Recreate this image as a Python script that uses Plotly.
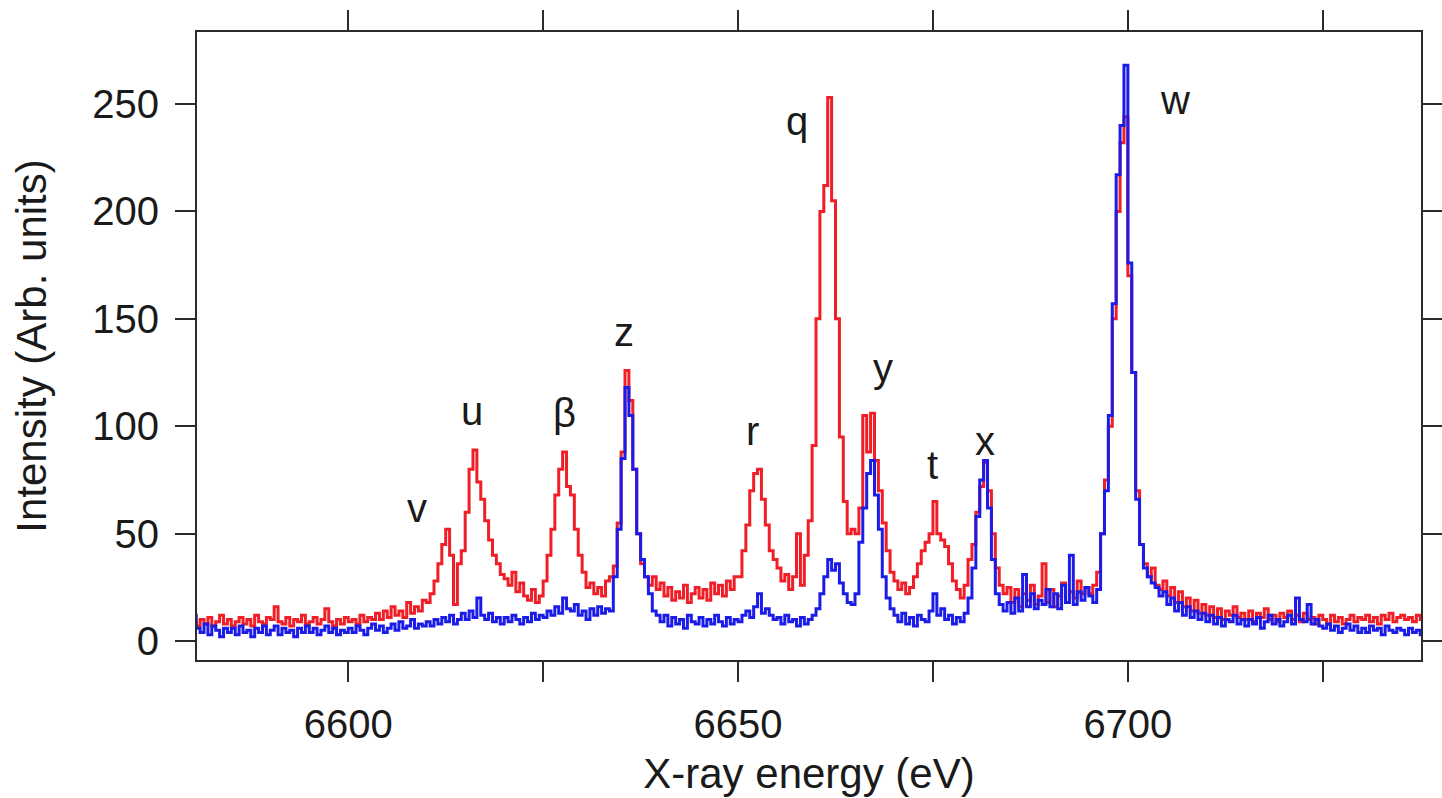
import numpy as np
import plotly.graph_objects as go

# Energy grid of the spectra (eV), 0.5 eV bins
E_START, E_STEP = 6580.0, 0.5

# Red spectrum, ten bins (5 eV) per row
red_counts = [
    9, 7, 10, 8, 11, 7, 9, 12, 8, 10,          # 6580
    7, 9, 11, 8, 10, 7, 12, 9, 8, 11,          # 6585
    10, 16, 9, 8, 11, 7, 10, 9, 12, 8,         # 6590
    9, 11, 8, 10, 15, 9, 7, 10, 8, 11,         # 6595
    9, 10, 8, 12, 9, 11, 10, 13, 10, 14,       # 6600
    11, 16, 12, 14, 11, 18, 13, 16, 14, 19,    # 6605
    18, 22, 28, 36, 45, 52, 40, 17, 36, 42,    # 6610
    60, 80, 89, 74, 66, 56, 47, 40, 36, 31,    # 6615
    29, 26, 32, 23, 27, 21, 19, 24, 18, 21,    # 6620
    28, 40, 52, 68, 80, 88, 72, 68, 52, 40,    # 6625
    32, 25, 27, 22, 25, 21, 28, 30, 35, 55,    # 6630
    88, 126, 112, 80, 50, 36, 30, 26, 30, 24,  # 6635
    27, 21, 25, 19, 23, 20, 26, 18, 22, 25,    # 6640
    20, 24, 19, 27, 22, 26, 21, 28, 24, 30,    # 6645
    30, 42, 54, 70, 78, 80, 66, 54, 42, 38,    # 6650
    34, 28, 31, 24, 30, 50, 26, 40, 56, 91,    # 6655
    150, 200, 212, 253, 205, 150, 95, 65, 50, 52,  # 6660
    50, 62, 105, 88, 106, 84, 70, 55, 42, 32,  # 6665
    28, 24, 27, 22, 25, 30, 36, 42, 46, 50,    # 6670
    65, 50, 47, 44, 36, 28, 24, 20, 26, 38,    # 6675
    45, 60, 72, 83, 70, 50, 34, 26, 22, 25,    # 6680
    18, 24, 16, 22, 19, 26, 17, 21, 36, 18,    # 6685
    24, 16, 21, 27, 18, 23, 20, 28, 22, 25,    # 6690
    22, 26, 32, 50, 75, 100, 150, 200, 232, 244,  # 6695
    170, 125, 70, 45, 36, 30, 34, 26, 24, 28,  # 6700
    21, 25, 18, 23, 16, 20, 14, 19, 13, 17,    # 6705
    12, 16, 11, 15, 10, 14, 12, 16, 11, 13,    # 6710
    10, 14, 9, 13, 11, 15, 10, 12, 9, 13,      # 6715
    11, 14, 10, 12, 9, 13, 10, 11, 8, 12,      # 6720
    10, 8, 12, 9, 11, 8, 10, 12, 9, 11,        # 6725
    10, 12, 9, 11, 8, 12, 10, 13, 9, 11,       # 6730
    12, 10, 11, 9, 12, 10, 11, 9, 10, 9,       # 6735
]

# Blue spectrum, ten bins (5 eV) per row
blue_counts = [
    12, 6, 4, 8, 3, 7, 5, 2, 6, 4,             # 6580
    6, 3, 7, 4, 5, 2, 6, 4, 7, 3,              # 6585
    5, 7, 3, 6, 4, 5, 2, 6, 4, 7,              # 6590
    4, 6, 3, 5, 7, 4, 6, 3, 5, 4,              # 6595
    6, 4, 7, 5, 3, 6, 8, 5, 7, 4,              # 6600
    6, 8, 5, 9, 6, 7, 10, 6, 8, 7,             # 6605
    9, 7, 10, 8, 11, 9, 12, 8, 10, 13,         # 6610
    10, 14, 11, 20, 12, 10, 13, 9, 11, 8,      # 6615
    11, 9, 12, 10, 8, 11, 9, 13, 10, 12,       # 6620
    11, 14, 12, 16, 13, 20, 15, 14, 17, 12,    # 6625
    14, 10, 15, 12, 16, 13, 15, 14, 30, 52,    # 6630
    85, 118, 105, 80, 50, 38, 30, 22, 14, 12,  # 6635
    9, 12, 7, 11, 8, 10, 6, 12, 9, 8,          # 6640
    11, 7, 10, 8, 12, 9, 7, 11, 8, 10,         # 6645
    9, 12, 14, 11, 16, 22, 13, 15, 12, 10,     # 6650
    11, 8, 12, 9, 10, 7, 11, 8, 10, 12,        # 6655
    15, 22, 30, 38, 33, 36, 27, 22, 18, 17,    # 6660
    22, 46, 62, 78, 84, 68, 52, 30, 20, 15,    # 6665
    12, 9, 13, 8, 11, 7, 12, 10, 9, 14,        # 6670
    22, 12, 15, 10, 12, 8, 11, 9, 13, 20,      # 6675
    34, 58, 75, 84, 62, 38, 22, 17, 14, 18,    # 6680
    13, 20, 14, 31, 16, 22, 15, 19, 17, 24,    # 6685
    16, 22, 15, 26, 18, 40, 17, 23, 19, 25,    # 6690
    21, 18, 24, 50, 70, 105, 157, 217, 240, 268,  # 6695
    176, 125, 66, 45, 34, 30, 27, 25, 21, 23,  # 6700
    17, 20, 14, 18, 12, 16, 11, 14, 10, 13,    # 6705
    9, 12, 8, 11, 7, 10, 9, 12, 8, 10,         # 6710
    7, 10, 8, 11, 6, 9, 12, 8, 10, 7,          # 6715
    9, 12, 8, 20, 10, 9, 17, 8, 10, 7,         # 6720
    6, 8, 5, 7, 4, 6, 8, 5, 7, 4,              # 6725
    6, 4, 7, 5, 6, 3, 7, 5, 4, 6,              # 6730
    5, 3, 6, 4, 5, 3, 4, 2, 4, 3,              # 6735
]

# Line labels and where they sit (eV, intensity)
line_names = ["w", "q", "z", "y", "u", "\u03b2", "r", "x", "t", "v"]
line_label_E = [6706.0, 6657.5, 6635.4, 6668.6, 6615.9, 6627.7, 6651.8, 6681.7, 6674.9, 6608.8]
line_label_I = [252.0, 242.0, 144.0, 127.0, 107.0, 106.0, 98.0, 93.0, 82.0, 62.0]

x_tick_vals = [6600, 6625, 6650, 6675, 6700, 6725]
x_tick_text = ["6600", "", "6650", "", "6700", ""]
y_tick_vals = [0, 50, 100, 150, 200, 250]

energy = E_START + E_STEP * np.arange(len(red_counts))

FONT = "Liberation Sans, Arial, Helvetica, sans-serif"
AXIS_COLOR = "#2b2b2b"

fig = go.Figure()
fig.add_trace(go.Scatter(x=energy, y=red_counts, mode="lines", line_shape="hv",
                         line=dict(color="#f01e26", width=3), showlegend=False))
fig.add_trace(go.Scatter(x=energy, y=blue_counts, mode="lines", line_shape="hv",
                         line=dict(color="#1c1ce8", width=3), showlegend=False))

for name, e, i in zip(line_names, line_label_E, line_label_I):
    fig.add_annotation(x=e, y=i, text=name, showarrow=False,
                       font=dict(family=FONT, size=40, color="#1a1a1a"),
                       xanchor="center", yanchor="middle")

axis_common = dict(
    showline=True, linecolor=AXIS_COLOR, linewidth=2.2, mirror="ticks",
    ticks="outside", ticklen=20, tickwidth=2.2, tickcolor=AXIS_COLOR,
    showgrid=False, zeroline=False, automargin=False,
    tickfont=dict(family=FONT, size=40, color="#1a1a1a"),
)

fig.update_xaxes(range=[6580.6, 6737.6], tickmode="array", tickvals=x_tick_vals,
                 ticktext=x_tick_text, ticklabelstandoff=8,
                 title=dict(text="X-ray energy (eV)", standoff=14,
                            font=dict(family=FONT, size=42, color="#1a1a1a")),
                 **axis_common)
fig.update_yaxes(range=[-8.8, 283.5], tickmode="array", tickvals=y_tick_vals,
                 ticklabelstandoff=8,
                 title=dict(text="Intensity (Arb. units)", standoff=32,
                            font=dict(family=FONT, size=42, color="#1a1a1a")),
                 **axis_common)

fig.update_layout(width=1442, height=798, autosize=False,
                  margin=dict(l=197, r=21, t=32, b=138),
                  paper_bgcolor="white", plot_bgcolor="white")

fig.write_html("out.html")
